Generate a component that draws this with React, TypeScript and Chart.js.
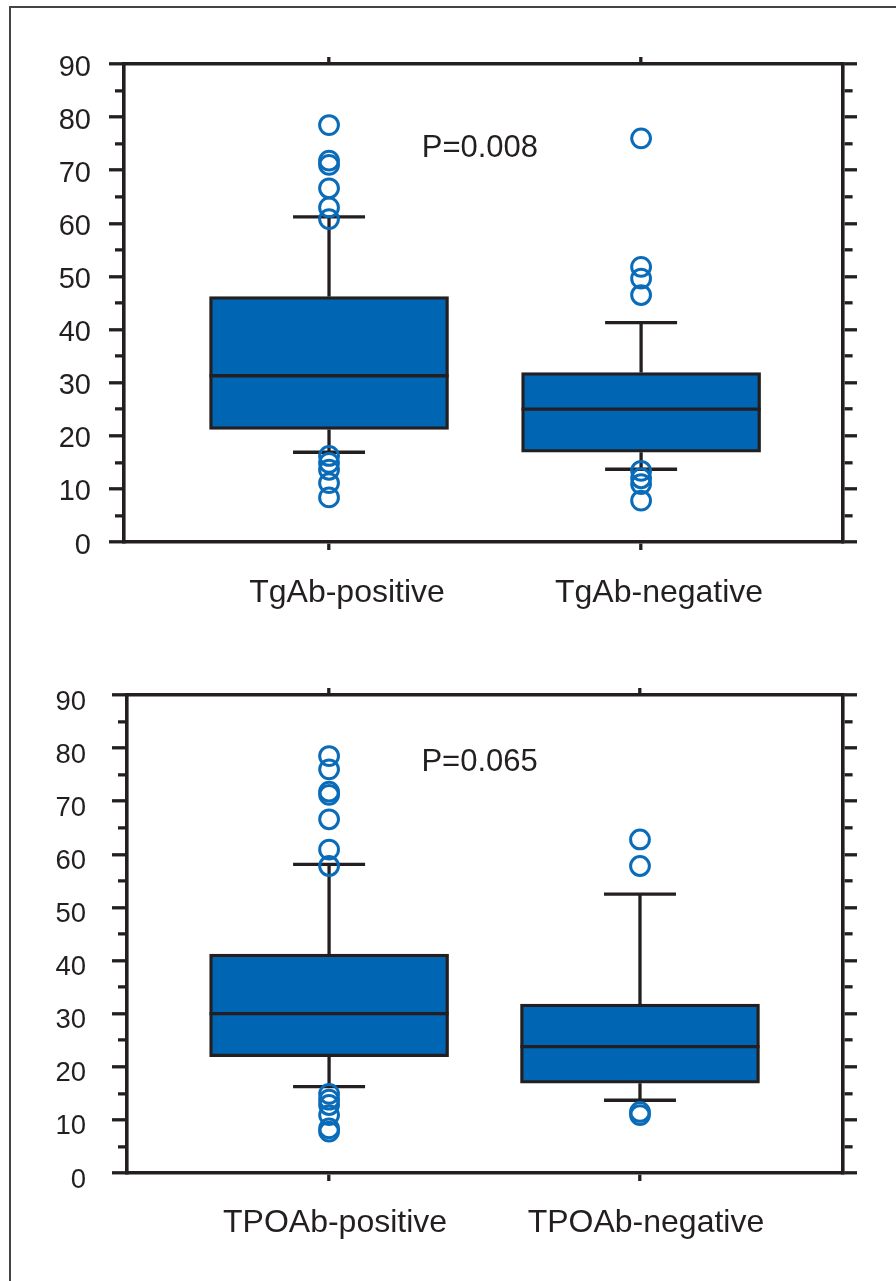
import React, { useEffect, useRef } from 'react';
import { Chart, registerables } from 'chart.js';

Chart.register(...registerables);

const INK = '#231f20';
const BOX_FILL = '#0066b3';
const RING = '#0a6cb9';
const FONT = '"Liberation Sans", Arial, Helvetica, sans-serif';

// ---- data: upper panel (TgAb) ----
const tgCategories = ['TgAb-positive', 'TgAb-negative'];
const tgQ1 = [21.2, 16.9];
const tgMedian = [31.3, 25.0];
const tgQ3 = [46.2, 31.9];
const tgWhiskerLow = [16.9, 13.7];
const tgWhiskerHigh = [61.2, 41.3];
const tgOutliersPositive = [78.5, 71.8, 71.0, 66.6, 63.0, 60.8, 16.2, 14.9, 13.6, 11.1, 8.4];
const tgOutliersNegative = [76.0, 51.8, 49.6, 46.5, 13.4, 12.0, 10.9, 7.8];
const tgPText = 'P=0.008';

// ---- data: lower panel (TPOAb) ----
const tpoCategories = ['TPOAb-positive', 'TPOAb-negative'];
const tpoQ1 = [21.9, 16.9];
const tpoMedian = [30.0, 23.8];
const tpoQ3 = [41.2, 31.8];
const tpoWhiskerLow = [16.25, 13.7];
const tpoWhiskerHigh = [58.1, 52.5];
const tpoOutliersPositive = [78.5, 76.0, 71.8, 71.2, 66.6, 60.9, 57.8, 14.9, 13.8, 12.8, 10.9, 8.4, 7.8];
const tpoOutliersNegative = [62.8, 57.8, 11.5, 10.9];
const tpoPText = 'P=0.065';

// ---- axis ticks ----
const yMajorTicks = [0, 10, 20, 30, 40, 50, 60, 70, 80, 90];
const yMinorTicks = [5, 15, 25, 35, 45, 55, 65, 75, 85];
const yMin = 0;
const yMax = 90;

const LINE_W = 3.3;
const AXIS_W = 3.6;

const pLabelPlugin = {
  id: 'pLabel',
  afterDatasetsDraw(chart: any, _args: any, opts: any) {
    const { ctx, scales } = chart;
    const x = scales.x;
    const y = scales.y;
    ctx.save();
    ctx.font = `${opts.size}px ${FONT}`;
    ctx.fillStyle = INK;
    ctx.textAlign = 'left';
    ctx.textBaseline = 'alphabetic';
    ctx.fillText(opts.text, x.getPixelForValue(opts.x), y.getPixelForValue(opts.y));
    ctx.restore();
  },
};

type PanelProps = {
  categories: string[];
  q1: number[];
  median: number[];
  q3: number[];
  lo: number[];
  hi: number[];
  outliers: number[][];
  pText: string;
  top: number;
  width: number;
  height: number;
  areaLeft: number;
  areaRight: number;
  areaTop: number;
  areaBottom: number;
  xMin: number;
  xMax: number;
  yFont: number;
  yPad: number;
  yLabelOffset: number;
  xFont: number;
  xPad: number;
  xLabelOffset: number;
  pX: number;
  pY: number;
};

function BoxPanel(p: PanelProps) {
  const ref = useRef<HTMLCanvasElement | null>(null);

  useEffect(() => {
    if (!ref.current) return;
    const pxPerUnit = (p.areaRight - p.areaLeft) / (p.xMax - p.xMin);
    const boxPx = 239;
    const boxHalf = boxPx / 2 / pxPerUnit;
    const capHalf = 36 / pxPerUnit;

    const datasets: any[] = [];
    datasets.push({
      type: 'bar',
      data: p.categories.map((_, i) => ({ x: i + 1, y: [p.q1[i], p.q3[i]] })),
      backgroundColor: BOX_FILL,
      borderColor: INK,
      borderWidth: LINE_W,
      borderSkipped: false,
      barThickness: boxPx,
      order: 3,
    });
    const lineStyle = {
      type: 'line',
      borderColor: INK,
      borderWidth: LINE_W,
      pointRadius: 0,
      fill: false,
      tension: 0,
      borderCapStyle: 'butt',
      order: 2,
    };
    p.categories.forEach((_, i) => {
      const c = i + 1;
      datasets.push({ ...lineStyle, data: [{ x: c, y: p.q3[i] }, { x: c, y: p.hi[i] }] });
      datasets.push({ ...lineStyle, data: [{ x: c - capHalf, y: p.hi[i] }, { x: c + capHalf, y: p.hi[i] }] });
      datasets.push({ ...lineStyle, data: [{ x: c, y: p.q1[i] }, { x: c, y: p.lo[i] }] });
      datasets.push({ ...lineStyle, data: [{ x: c - capHalf, y: p.lo[i] }, { x: c + capHalf, y: p.lo[i] }] });
      datasets.push({ ...lineStyle, data: [{ x: c - boxHalf, y: p.median[i] }, { x: c + boxHalf, y: p.median[i] }] });
      datasets.push({
        type: 'scatter',
        data: p.outliers[i].map((v) => ({ x: c, y: v })),
        pointRadius: 9.4,
        pointHoverRadius: 9.4,
        pointBorderWidth: 3,
        pointBackgroundColor: 'rgba(0,0,0,0)',
        pointBorderColor: RING,
        showLine: false,
        order: 1,
      });
    });

    const catTicks = (s: any) => {
      s.ticks = p.categories.map((_, i) => ({ value: i + 1 }));
    };
    const yTicks = (s: any) => {
      s.ticks = [...yMajorTicks, ...yMinorTicks].sort((a, b) => a - b).map((v) => ({ value: v }));
    };
    const isMinor = (ctx: any) => ctx && ctx.tick && yMinorTicks.includes(ctx.tick.value);

    const chart = new Chart(ref.current, {
      type: 'scatter',
      data: { datasets },
      plugins: [pLabelPlugin],
      options: {
        responsive: false,
        animation: false,
        devicePixelRatio: 1,
        layout: { padding: 0 },
        plugins: {
          legend: { display: false },
          tooltip: { enabled: false },
          pLabel: { text: p.pText, x: p.pX, y: p.pY, size: 31 },
        } as any,
        scales: {
          x: {
            type: 'linear',
            position: 'bottom',
            min: p.xMin,
            max: p.xMax,
            offset: false,
            afterBuildTicks: catTicks,
            afterFit: (s: any) => {
              s.height = p.height - p.areaBottom;
            },
            ticks: {
              callback: (v: any) => p.categories[Math.round(Number(v)) - 1] ?? '',
              font: { size: p.xFont, family: FONT },
              color: INK,
              padding: p.xPad,
              labelOffset: p.xLabelOffset,
              maxRotation: 0,
              autoSkip: false,
            },
            grid: {
              drawOnChartArea: false,
              drawTicks: true,
              tickLength: 8,
              tickWidth: LINE_W,
              tickColor: INK,
              lineWidth: AXIS_W,
              offset: false,
            },
            border: { display: true, width: AXIS_W, color: INK },
          },
          xTop: {
            type: 'linear',
            position: 'top',
            min: p.xMin,
            max: p.xMax,
            offset: false,
            afterBuildTicks: catTicks,
            afterFit: (s: any) => {
              s.height = p.areaTop;
            },
            ticks: { display: false },
            grid: {
              drawOnChartArea: false,
              drawTicks: true,
              tickLength: 7,
              tickWidth: LINE_W,
              tickColor: INK,
              lineWidth: AXIS_W,
              offset: false,
            },
            border: { display: true, width: AXIS_W, color: INK },
          },
          y: {
            type: 'linear',
            position: 'left',
            min: yMin,
            max: yMax,
            afterBuildTicks: yTicks,
            afterFit: (s: any) => {
              s.width = p.areaLeft;
            },
            ticks: {
              callback: (v: any) => (yMajorTicks.includes(Number(v)) ? String(v) : ''),
              font: { size: p.yFont, family: FONT },
              color: INK,
              padding: p.yPad,
              labelOffset: p.yLabelOffset,
              autoSkip: false,
            },
            grid: {
              drawOnChartArea: false,
              drawTicks: true,
              tickLength: 15,
              tickWidth: LINE_W,
              tickColor: INK,
              lineWidth: AXIS_W,
              tickBorderDash: (ctx: any) => (isMinor(ctx) ? [0, 6, 100] : []),
            } as any,
            border: { display: true, width: AXIS_W, color: INK },
          },
          yRight: {
            type: 'linear',
            position: 'right',
            min: yMin,
            max: yMax,
            afterBuildTicks: yTicks,
            afterFit: (s: any) => {
              s.width = p.width - p.areaRight;
            },
            ticks: { display: false, autoSkip: false },
            grid: {
              drawOnChartArea: false,
              drawTicks: true,
              tickLength: 14,
              tickWidth: LINE_W,
              tickColor: INK,
              lineWidth: AXIS_W,
              tickBorderDash: (ctx: any) => (isMinor(ctx) ? [8, 100] : []),
            } as any,
            border: { display: true, width: AXIS_W, color: INK },
          },
        },
      } as any,
    });
    return () => chart.destroy();
  }, []);

  return (
    <canvas
      ref={ref}
      width={p.width}
      height={p.height}
      style={{ position: 'absolute', left: 0, top: p.top, width: p.width, height: p.height }}
    />
  );
}

export default function App() {
  Chart.defaults.font.family = FONT;
  return (
    <div style={{ position: 'fixed', left: 0, top: 0, width: 896, height: 1281, overflow: 'hidden', background: '#fff' }}>
      <div
        style={{
          position: 'absolute',
          left: 9,
          top: 6,
          width: 2000,
          height: 2000,
          borderLeft: '2px solid #444',
          borderTop: '2px solid #444',
        }}
      />
      <BoxPanel
        categories={tgCategories}
        q1={tgQ1}
        median={tgMedian}
        q3={tgQ3}
        lo={tgWhiskerLow}
        hi={tgWhiskerHigh}
        outliers={[tgOutliersPositive, tgOutliersNegative]}
        pText={tgPText}
        top={0}
        width={896}
        height={640}
        areaLeft={124}
        areaRight={843}
        areaTop={64}
        areaBottom={542}
        xMin={0.343}
        xMax={2.647}
        yFont={29}
        yPad={18}
        yLabelOffset={3.5}
        xFont={32}
        xPad={24}
        xLabelOffset={18}
        pX={1.297}
        pY={72.5}
      />
      <BoxPanel
        categories={tpoCategories}
        q1={tpoQ1}
        median={tpoMedian}
        q3={tpoQ3}
        lo={tpoWhiskerLow}
        hi={tpoWhiskerHigh}
        outliers={[tpoOutliersPositive, tpoOutliersNegative]}
        pText={tpoPText}
        top={640}
        width={896}
        height={641}
        areaLeft={127}
        areaRight={843}
        areaTop={55}
        areaBottom={533}
        xMin={0.35}
        xMax={2.653}
        yFont={27.5}
        yPad={26}
        yLabelOffset={7}
        xFont={32}
        xPad={23}
        xLabelOffset={6}
        pX={1.297}
        pY={75.6}
      />
    </div>
  );
}
